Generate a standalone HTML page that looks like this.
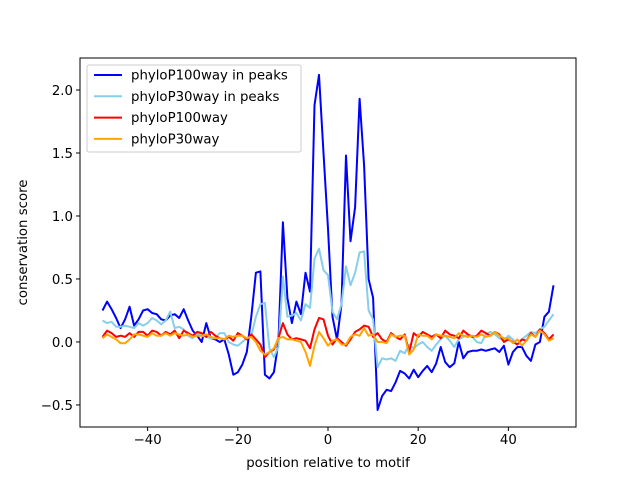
<!DOCTYPE html>
<html><head><meta charset="utf-8"><style>
body{margin:0;background:#fff}
svg text{font-family:"DejaVu Sans","Liberation Sans",sans-serif;fill:#000}
</style></head><body>
<svg id="c" width="640" height="480" xmlns="http://www.w3.org/2000/svg"></svg>
<script>
const xStart = -50;
const p100Peaks = [0.25,0.32,0.26,0.19,0.11,0.18,0.28,0.13,0.18,0.25,
 0.26,0.23,0.22,0.18,0.17,0.21,0.22,0.19,0.26,0.17,
 0.09,0.05,0.0,0.15,0.03,0.02,0.0,0.02,-0.1,-0.26,
 -0.24,-0.18,-0.08,0.2,0.55,0.56,-0.26,-0.29,-0.24,0.0,
 0.95,0.35,0.15,0.32,0.22,0.55,0.40,1.88,2.12,1.5,
 0.9,0.2,0.02,0.3,1.48,0.8,1.07,1.93,1.4,0.5,
 0.35,-0.54,-0.43,-0.38,-0.39,-0.32,-0.23,-0.25,-0.29,-0.22,
 -0.28,-0.23,-0.19,-0.24,-0.17,-0.04,-0.16,-0.2,-0.17,0.0,
 -0.13,-0.08,-0.07,-0.07,-0.06,-0.07,-0.06,-0.05,-0.08,-0.03,
 -0.18,-0.08,-0.04,-0.04,-0.11,-0.15,-0.02,0.0,0.2,0.24,
 0.45];
const p30Peaks = [0.17,0.15,0.16,0.12,0.12,0.13,0.12,0.11,0.15,0.13,
 0.15,0.19,0.17,0.14,0.17,0.24,0.11,0.12,0.10,0.05,
 0.03,0.07,0.05,0.04,0.03,0.03,0.07,0.07,0.0,-0.02,
 -0.03,0.0,0.03,0.05,0.2,0.3,0.31,-0.05,-0.12,-0.04,
 0.52,0.2,0.21,0.23,0.17,0.30,0.27,0.66,0.74,0.57,
 0.53,0.24,0.18,0.3,0.6,0.45,0.55,0.71,0.72,0.25,
 0.18,-0.2,-0.13,-0.14,-0.13,-0.15,-0.07,-0.09,-0.02,-0.05,
 -0.02,0.0,-0.04,-0.07,-0.02,0.02,0.05,0.01,-0.04,0.02,
 0.04,0.06,0.04,0.0,-0.01,0.06,0.08,0.06,0.03,0.01,
 0.05,0.02,-0.02,0.02,0.05,0.08,0.07,0.1,0.12,0.17,
 0.22];
const p100All = [0.04,0.09,0.07,0.04,0.05,0.04,0.07,0.04,0.08,0.08,
 0.05,0.09,0.08,0.05,0.08,0.06,0.09,0.03,0.09,0.07,
 0.05,0.08,0.07,0.04,0.08,0.05,0.03,0.02,0.04,0.01,
 0.07,0.05,0.02,0.06,0.02,-0.02,-0.12,-0.08,-0.06,0.03,
 0.15,0.06,0.02,0.03,0.02,0.01,-0.05,0.1,0.19,0.18,
 0.05,-0.02,0.03,0.0,-0.03,0.02,0.08,0.1,0.13,0.12,
 0.04,0.07,0.02,0.0,0.07,0.04,0.02,0.06,-0.08,0.07,
 0.04,0.08,0.06,0.04,0.06,0.03,0.09,0.06,0.05,0.03,
 0.09,0.06,0.04,0.05,0.09,0.07,0.05,0.08,0.06,0.0,
 0.02,0.0,-0.02,0.02,0.01,0.07,0.04,0.1,0.07,0.02,
 0.06];
const p30All = [0.03,0.06,0.04,0.02,-0.01,-0.01,0.02,0.06,0.06,0.05,
 0.04,0.07,0.05,0.05,0.07,0.05,0.07,0.06,0.05,0.06,
 0.04,0.05,0.05,0.06,0.04,0.03,0.03,0.02,0.05,0.04,
 0.05,0.05,0.03,0.04,0.0,-0.07,-0.1,-0.08,-0.05,0.03,
 0.04,0.02,0.02,0.01,0.0,-0.08,-0.19,-0.03,0.08,0.03,
 -0.03,0.01,0.02,-0.02,-0.02,0.04,0.06,0.05,0.11,0.05,
 0.06,0.0,0.0,-0.01,0.06,0.04,0.05,0.05,-0.1,-0.06,
 0.06,0.05,0.05,0.02,0.06,0.05,0.05,0.04,0.03,0.07,
 0.05,0.04,0.05,0.04,0.06,0.04,0.05,0.08,0.05,0.03,
 0.03,-0.01,0.02,-0.03,0.01,0.06,0.04,0.09,0.06,0.01,
 0.03];
const seriesNames = ["phyloP100way in peaks","phyloP30way in peaks","phyloP100way","phyloP30way"];
const seriesColors = ["#0000ff","#87ceeb","#ff0000","#ffa500"];
const xTicks = [-40,-20,0,20,40];
const yTicks = [-0.5,0.0,0.5,1.0,1.5,2.0];

const L=80,R=576,T=58,B=427, xMin=-55,xMax=55,yMin=-0.675,yMax=2.254;
const sx=v=>L+(v-xMin)/(xMax-xMin)*(R-L);
const sy=v=>B-(v-yMin)/(yMax-yMin)*(B-T);
const NS="http://www.w3.org/2000/svg", svg=document.getElementById('c');
function mk(t,a,p){const e=document.createElementNS(NS,t);for(const k in a)e.setAttribute(k,a[k]);(p||svg).appendChild(e);return e;}

const all=[p100Peaks,p30Peaks,p100All,p30All];
all.forEach((arr,i)=>{
  const d=arr.map((v,j)=>(j?'L':'M')+sx(xStart+j).toFixed(1)+' '+sy(v).toFixed(1)).join(' ');
  const p=mk('path',{d:d,fill:'none',stroke:seriesColors[i],'stroke-width':2,'stroke-linejoin':'round'});
  
  
});
const frame=mk('rect',{x:L,y:T,width:R-L,height:B-T,fill:'none',stroke:'#000','stroke-width':1});


xTicks.forEach(v=>{
  const x=sx(v);
  mk('line',{x1:x,x2:x,y1:B,y2:B+4,stroke:'#000','stroke-width':1});
  const t=mk('text',{x:x,y:B+17,'text-anchor':'middle','font-size':'13.3px'});
  t.textContent=(v<0?'\u2212'+(-v):v);
  
  
});
yTicks.forEach(v=>{
  const y=sy(v);
  mk('line',{x1:L-4,x2:L,y1:y,y2:y,stroke:'#000','stroke-width':1});
  const t=mk('text',{x:L-7,y:y+4.8,'text-anchor':'end','font-size':'13.3px'});
  t.textContent=(v<0?'\u2212'+(-v).toFixed(1):v.toFixed(1));
  
  
});
const xt=mk('text',{x:(L+R)/2,y:467,'text-anchor':'middle','font-size':'13.3px'});
xt.textContent='position relative to motif';


const yt=mk('text',{x:0,y:0,'text-anchor':'middle','font-size':'13.3px',transform:'translate(27,'+((T+B)/2)+') rotate(-90)'});
yt.textContent='conservation score';


const lg=mk('g',{});


mk('rect',{x:87,y:65,width:214,height:87,rx:2,fill:'#fff','fill-opacity':0.8,stroke:'#ccc','stroke-width':1},lg);
seriesNames.forEach((n,i)=>{
  const y=75+i*21.3;
  mk('line',{x1:94,x2:122,y1:y,y2:y,stroke:seriesColors[i],'stroke-width':2},lg);
  const t=mk('text',{x:131,y:y+4.6,'font-size':'13.3px'},lg);
  t.textContent=n;
  
  
});
</script>
</body></html>
